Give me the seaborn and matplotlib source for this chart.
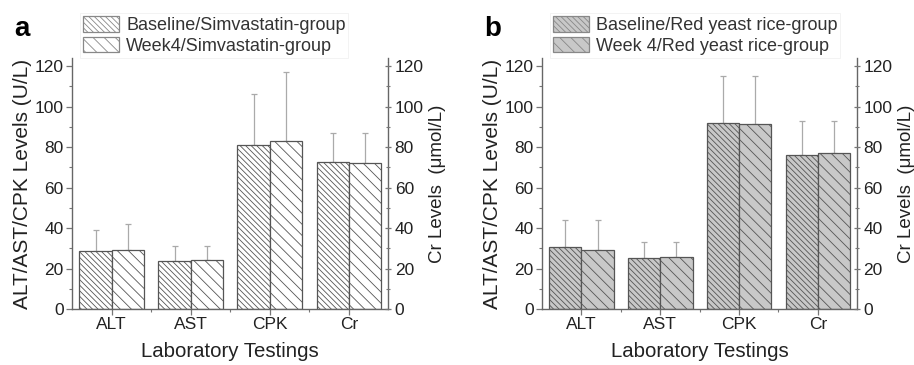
import matplotlib
matplotlib.use("Agg")
import matplotlib.pyplot as plt
import pandas as pd
import seaborn as sns
from matplotlib.ticker import MultipleLocator, FixedLocator

tests = ["ALT", "AST", "CPK", "Cr"]

# panel a: simvastatin group
simva_base = [28.5, 24.0, 81.0, 72.5]
simva_week4 = [29.0, 24.5, 83.0, 72.0]
simva_base_err = [10.5, 7.0, 25.0, 14.5]
simva_week4_err = [13.0, 6.5, 34.0, 15.0]

# panel b: red yeast rice group
ryr_base = [30.5, 25.5, 92.0, 76.0]
ryr_week4 = [29.0, 26.0, 91.5, 77.0]
ryr_base_err = [13.5, 7.5, 23.0, 17.0]
ryr_week4_err = [15.0, 7.0, 23.5, 16.0]

sns.set_theme(style="white")
plt.rcParams["font.family"] = ["Liberation Sans", "DejaVu Sans"]
plt.rcParams["hatch.linewidth"] = 0.6
plt.rcParams["hatch.color"] = "#777777"

fig = plt.figure(figsize=(9.14, 3.65), dpi=100)
axes = [fig.add_axes([0.079, 0.153, 0.346, 0.688]),
        fig.add_axes([0.593, 0.153, 0.345, 0.688])]

panels = [
    ("a", simva_base, simva_week4, simva_base_err, simva_week4_err,
     ["Baseline/Simvastatin-group", "Week4/Simvastatin-group"], "white"),
    ("b", ryr_base, ryr_week4, ryr_base_err, ryr_week4_err,
     ["Baseline/Red yeast rice-group", "Week 4/Red yeast rice-group"], "#c8c8c8"),
]

hatches = ["\\\\\\\\\\\\", "\\\\\\"]
TXT = "#222222"

for ax, (letter, base, wk4, berr, werr, labels, fill) in zip(axes, panels):
    df = pd.DataFrame({
        "test": tests * 2,
        "value": base + wk4,
        "group": [labels[0]] * 4 + [labels[1]] * 4,
    })
    sns.barplot(data=df, x="test", y="value", hue="group", ax=ax,
                errorbar=None, width=0.82, palette=[fill, fill],
                edgecolor="#555555", linewidth=0.9, legend=True)
    for cont, h, err in zip(ax.containers, hatches, [berr, werr]):
        xs, ys = [], []
        for bar in cont:
            bar.set_hatch(h)
            bar.set_facecolor(fill)
            xs.append(bar.get_x() + bar.get_width() / 2)
            ys.append(bar.get_height())
        ax.errorbar(xs, ys, yerr=[[0] * len(err), err], fmt="none",
                    ecolor="#aaaaaa", elinewidth=0.9, capsize=2.5, capthick=0.9,
                    zorder=0)

    ax.set_xlim(-0.5, 3.5)
    ax.set_ylim(0, 124)
    ax.yaxis.set_major_locator(MultipleLocator(20))
    ax.yaxis.set_minor_locator(MultipleLocator(10))
    ax.xaxis.set_minor_locator(FixedLocator([0.5, 1.5, 2.5]))
    ax.spines["top"].set_visible(False)
    for s in ["left", "right", "bottom"]:
        ax.spines[s].set_color("#666666")
        ax.spines[s].set_linewidth(1.0)
    ax.tick_params(axis="both", which="major", direction="out", length=4,
                   width=0.9, color="#777777", labelsize=12.5, labelcolor=TXT,
                   left=True, bottom=True, pad=2)
    ax.tick_params(axis="both", which="minor", direction="out", length=2.5,
                   width=0.8, color="#777777", left=True, bottom=True)
    ax.set_xlabel("Laboratory Testings", fontsize=14.7, color=TXT, labelpad=7)
    ax.set_ylabel("ALT/AST/CPK Levels (U/L)", fontsize=15, color=TXT, labelpad=2)

    ax2 = ax.twinx()
    ax2.set_ylim(0, 124)
    ax2.yaxis.set_major_locator(MultipleLocator(20))
    ax2.yaxis.set_minor_locator(MultipleLocator(10))
    for s in ax2.spines.values():
        s.set_visible(False)
    ax2.tick_params(axis="y", which="major", direction="inout", length=5,
                    width=0.9, color="#777777", labelsize=12.5, labelcolor=TXT,
                    right=True, pad=2)
    ax2.tick_params(axis="y", which="minor", direction="inout", length=3,
                    width=0.8, color="#777777", right=True)
    ax2.set_ylabel("Cr Levels  (\u03bcmol/L)", fontsize=13.5, color=TXT, labelpad=4)

    leg = ax.legend(loc="lower left", bbox_to_anchor=(0.025, 1.002), ncol=1,
                    fontsize=13, frameon=True, handlelength=2.0, handleheight=0.95,
                    handletextpad=0.4, borderpad=0.15, labelspacing=0.15,
                    borderaxespad=0.0, fancybox=False)
    leg.get_frame().set_edgecolor("#eeeeee")
    leg.get_frame().set_linewidth(0.6)
    for t in leg.get_texts():
        t.set_color("#333333")
    for patch, h in zip(leg.get_patches(), hatches):
        patch.set_hatch(h)
        patch.set_facecolor(fill)
        patch.set_edgecolor("#888888")

    fig.text(ax.get_position().x0 - 0.063, 0.885, letter, fontsize=20,
             fontweight="bold", color="black", ha="left", va="bottom")

fig.savefig("out.png", dpi=100)
